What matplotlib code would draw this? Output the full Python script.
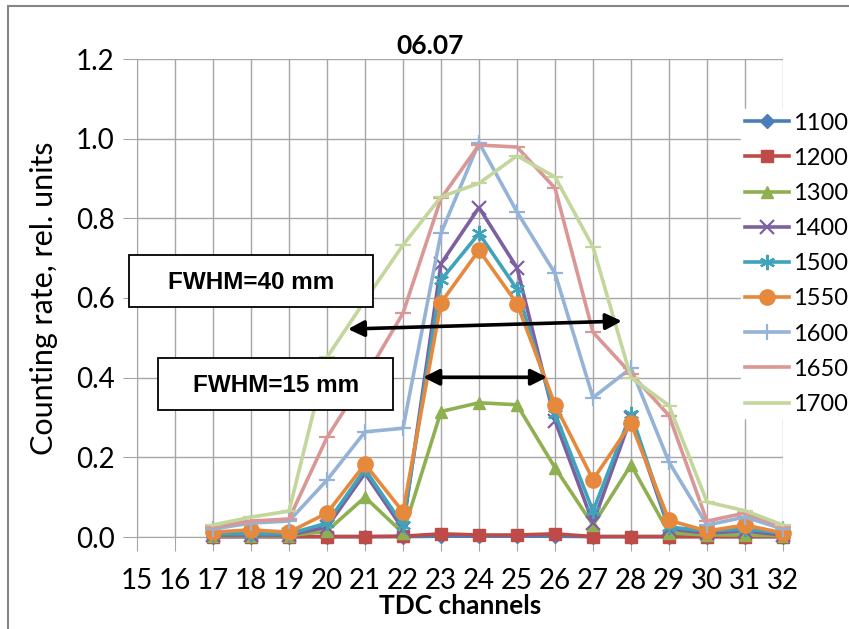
import matplotlib
matplotlib.use('Agg')
import matplotlib.pyplot as plt
import numpy as np
from matplotlib.patches import Rectangle

plt.rcParams['font.family'] = ['Lato', 'DejaVu Sans']

# category axis: TDC channels 15..32, data present from 17 on
channels = [15, 16, 17, 18, 19, 20, 21, 22, 23, 24, 25, 26, 27, 28, 29, 30, 31, 32]
x_data = [17, 18, 19, 20, 21, 22, 23, 24, 25, 26, 27, 28, 29, 30, 31, 32]

labels = ['1100', '1200', '1300', '1400', '1500', '1550', '1600', '1650', '1700']

v1100 = [0.001, 0.001, 0.001, 0.001, 0.001, 0.001, 0.002, 0.002, 0.002, 0.002, 0.001, 0.001, 0.001, 0.001, 0.001, 0.001]
v1200 = [0.001, 0.001, 0.001, 0.001, 0.001, 0.002, 0.008, 0.005, 0.005, 0.008, 0.001, 0.001, 0.001, 0.001, 0.001, 0.001]
v1300 = [0.003, 0.003, 0.003, 0.015, 0.10, 0.01, 0.315, 0.337, 0.332, 0.174, 0.03, 0.181, 0.01, 0.005, 0.005, 0.003]
v1400 = [0.005, 0.005, 0.005, 0.025, 0.16, 0.02, 0.686, 0.827, 0.676, 0.292, 0.035, 0.30, 0.02, 0.01, 0.015, 0.005]
v1500 = [0.008, 0.008, 0.008, 0.035, 0.17, 0.03, 0.645, 0.762, 0.622, 0.31, 0.065, 0.31, 0.025, 0.015, 0.02, 0.01]
v1550 = [0.012, 0.018, 0.012, 0.06, 0.183, 0.063, 0.588, 0.72, 0.586, 0.332, 0.144, 0.285, 0.042, 0.015, 0.03, 0.01]
v1600 = [0.02, 0.035, 0.04, 0.143, 0.264, 0.273, 0.763, 0.99, 0.816, 0.662, 0.35, 0.424, 0.188, 0.03, 0.05, 0.02]
v1650 = [0.025, 0.04, 0.045, 0.25, 0.40, 0.562, 0.85, 0.984, 0.979, 0.876, 0.514, 0.41, 0.305, 0.04, 0.06, 0.025]
v1700 = [0.03, 0.05, 0.065, 0.451, 0.594, 0.733, 0.854, 0.888, 0.957, 0.904, 0.728, 0.40, 0.33, 0.088, 0.066, 0.03]

series = [v1100, v1200, v1300, v1400, v1500, v1550, v1600, v1650, v1700]
colors = ['#4A7EBB', '#BE4B48', '#8FB050', '#7D60A0', '#3FA3BC', '#E6893D', '#95B3D7', '#D99795', '#C3D69B']
markers = ['D', 's', '^', 'x', (6, 2, 0), 'o', '+', '_', '_']
msizes = [7, 9, 9, 10, 11, 11, 11, 11, 11]

fig = plt.figure(figsize=(8.49, 6.29), dpi=100)
ax = fig.add_axes([137/849, 1 - 537/629, (783 - 137)/849, (537 - 59)/629])

pos = {c: i for i, c in enumerate(channels)}
xs = [pos[c] for c in x_data]

grid_c = '#A6A6A6'
for i, vals in enumerate(series):
    thin = markers[i] in ('x', '+', '_') or isinstance(markers[i], tuple)
    ax.plot(xs, vals, color=colors[i], lw=2.6, marker=markers[i], ms=msizes[i],
            mew=1.6 if thin else 1, mec=colors[i], mfc=colors[i],
            label=labels[i], zorder=3 + i, clip_on=False)

ax.set_xlim(0, len(channels) - 1)
ax.set_ylim(0, 1.2)
ax.set_xticks(range(len(channels)))
ax.set_xticklabels([str(c) for c in channels])
yt = np.arange(0, 1.21, 0.2)
ax.set_yticks(yt)
ax.set_yticklabels(['%.1f' % v for v in yt])
ax.grid(True, color=grid_c, lw=1)
ax.set_axisbelow(True)
for s in ['top', 'right']:
    ax.spines[s].set_visible(False)
for s in ['left', 'bottom']:
    ax.spines[s].set_color(grid_c)
ax.tick_params(axis='both', direction='out', length=10, color=grid_c, labelsize=20, pad=6)
ax.tick_params(axis='x', pad=12)

ax.set_ylabel('Counting rate, rel. units', fontsize=22, labelpad=13)
ax.set_xlabel('TDC channels', fontsize=19, fontweight='bold', labelpad=0)
fig.text(430/849, 1 - 46/629, '06.07', fontsize=19, fontweight='bold', ha='center', va='center')

# FWHM annotations
box_font = dict(family='Liberation Sans', fontsize=17.5, fontweight='bold')
fig.add_artist(Rectangle((129/849, 1 - 307/629), 244/849, 52/629, transform=fig.transFigure,
                         fc='white', ec='black', lw=1.3, zorder=20))
fig.text(251/849, 1 - 282/629, 'FWHM=40 mm', ha='center', va='center', zorder=21, **box_font)
fig.add_artist(Rectangle((158/849, 1 - 410/629), 235/849, 52/629, transform=fig.transFigure,
                         fc='white', ec='black', lw=1.3, zorder=20))
fig.text(276/849, 1 - 385/629, 'FWHM=15 mm', ha='center', va='center', zorder=21, **box_font)

arrow = dict(arrowstyle='<|-|>', color='black', lw=2.6, mutation_scale=24, shrinkA=0, shrinkB=0)
ax.annotate('', xy=(pos[20] + 0.55, 0.522), xytext=(pos[27] + 0.76, 0.542),
            arrowprops=arrow, zorder=30, annotation_clip=False)
ax.annotate('', xy=(pos[22] + 0.53, 0.401), xytext=(pos[25] + 0.79, 0.401),
            arrowprops=arrow, zorder=30, annotation_clip=False)

leg = ax.legend(loc='upper left', bbox_to_anchor=(741/849, 1 - 109/629), bbox_transform=fig.transFigure,
                frameon=True, fancybox=False, edgecolor='white', facecolor='white', framealpha=1,
                fontsize=17, handlelength=1.9, handletextpad=0.15, labelspacing=0.6,
                borderpad=0.15, borderaxespad=0)
leg.set_zorder(40)

fig.add_artist(Rectangle((8/849, -0.1), 1.2, 1 - 6/629 + 0.1, transform=fig.transFigure,
                         fill=False, ec='#868686', lw=1.5))

fig.savefig('out.png', dpi=100)
